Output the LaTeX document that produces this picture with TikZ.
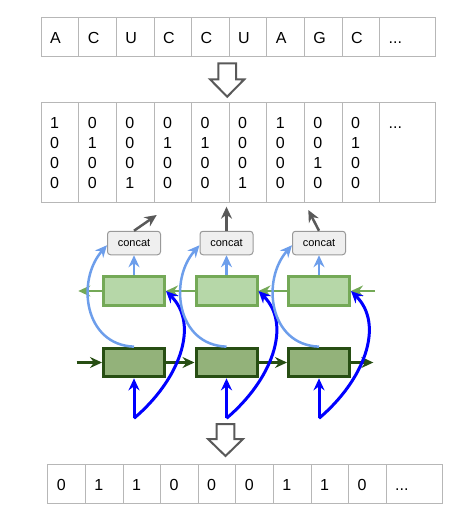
\documentclass[tikz,border=0pt]{standalone}
\usepackage{fontspec}
\setmainfont{Liberation Sans}
\usetikzlibrary{arrows.meta,calc}
\definecolor{gridc}{HTML}{B7B7B7}
\definecolor{dgreen}{HTML}{274E13}
\definecolor{dfill}{HTML}{93B27A}
\definecolor{lgreen}{HTML}{74A957}
\definecolor{lfill}{HTML}{B6D7A8}
\definecolor{lblue}{HTML}{6D9EEB}
\definecolor{bblue}{HTML}{0000FF}
\definecolor{garrow}{HTML}{595959}
\definecolor{cfill}{HTML}{EFEFEF}
\definecolor{cborder}{HTML}{999999}
\newcommand\dstrut{\rule{0pt}{12pt}}
\begin{document}
\begin{tikzpicture}[x=1pt,y=-1pt,
  cell/.style={draw=gridc, line width=1pt, anchor=north west, minimum width=37.6pt,
    minimum height=38.7pt, text width=19.6pt, inner xsep=9pt, inner ysep=0pt,
    align=left, font=\fontsize{16}{20}\selectfont},
  wide/.style={minimum width=56pt, text width=38pt},
  tall/.style={minimum height=100.6pt},
  dbox/.style={draw=dgreen, fill=dfill, line width=3pt, minimum width=61pt, minimum height=28.7pt, inner sep=0pt},
  lbox/.style={draw=lgreen, fill=lfill, line width=3pt, minimum width=61pt, minimum height=28.7pt, inner sep=0pt},
  cbox/.style={draw=cborder, fill=cfill, line width=1pt, rounded corners=3pt, minimum width=53pt,
    minimum height=23.5pt, inner sep=0pt, font=\fontsize{11}{13}\selectfont},
  tipstyle/.style={-{Stealth[length=12pt,width=11pt,inset=4pt]}},
  darr/.style={tipstyle, draw=dgreen, line width=2.5pt},
  larr/.style={tipstyle, draw=lgreen, line width=2.5pt},
  barr/.style={tipstyle, draw=bblue, line width=3pt},
  lbarr/.style={tipstyle, draw=lblue, line width=2.5pt},
  garr/.style={tipstyle, draw=garrow, line width=2.5pt},
  blockarrow/.style={draw=garrow, fill=white, line width=2pt, line join=miter}
]
\useasboundingbox (0,0) rectangle (468,532);

% top table
\foreach \t [count=\i from 0] in {A,C,U,C,C,U,A,G,C}
  \node[cell] (a\i) at ({40.7+37.6*\i},17.3) {\dstrut\t};
\node[cell, wide] (a9) at (379.1,17.3) {\dstrut...};

% one-hot table
\foreach \ua/\ub/\uc/\ud [count=\i from 0] in {1/0/0/0,0/1/0/0,0/0/0/1,0/1/0/0,0/1/0/0,0/0/0/1,1/0/0/0,0/0/1/0,0/1/0/0}
  \node[cell, tall] (b\i) at ({40.7+37.6*\i},101.7) {\dstrut\ua\\\dstrut\ub\\\dstrut\uc\\\dstrut\ud};
\node[cell, wide, tall] (b9) at (379.1,101.7) {\dstrut...\\\dstrut\\\dstrut\\\dstrut};

% bottom table
\foreach \t [count=\i from 0] in {0,1,1,0,0,0,1,1,0}
  \node[cell] (e\i) at ({47.3+37.6*\i},464.3) {\dstrut\t};
\node[cell, wide] (e9) at (385.7,464.3) {\dstrut...};

% block arrows
\draw[blockarrow] (218.3,63.3) -- (236,63.3) -- (236,79.3) -- (244.3,79.3) -- (227.2,96.7)
  -- (210,79.3) -- (218.3,79.3) -- cycle;
\draw[blockarrow] (216.7,424) -- (234.3,424) -- (234.3,439) -- (243,439) -- (225.5,456)
  -- (208,439) -- (216.7,439) -- cycle;

% RNN cells
\foreach \n/\cx in {1/134,2/226.5,3/319} {
  \node[dbox] (d\n) at (\cx,362.5) {};
  \node[lbox] (l\n) at (\cx,291) {};
  \node[cbox] (c\n) at (\cx,243) {concat};
  \coordinate (in\n) at (\cx,418.3);
}
\coordinate (dIn) at (76.7,362.5);
\coordinate (dOut) at (373.3,362.5);
\coordinate (lIn) at (375,291);
\coordinate (lOut) at (78.3,291);
\coordinate (o1) at (156.7,215);
\coordinate (o2) at (226.5,206.7);
\coordinate (o3) at (308.3,210);

% forward chain
\draw[darr] (dIn) -- (d1);
\draw[darr] (d1) -- (d2);
\draw[darr] (d2) -- (d3);
\draw[darr] (d3) -- (dOut);
% backward chain
\draw[larr] (lIn) -- (l3);
\draw[larr] (l3) -- (l2);
\draw[larr] (l2) -- (l1);
\draw[larr] (l1) -- (lOut);

\foreach \n in {1,2,3} {
  \draw[lbarr] (d\n.north) .. controls ($(d\n.north)+(-50,-1.7)$) and ($(c\n.south west)+(-31,25)$)
    .. ($(c\n.south west)+(0,-10)$);
  \draw[lbarr] (l\n) -- (c\n);
  \draw[barr] (in\n) -- (d\n.south);
  \draw[barr] (in\n) .. controls ($(in\n)+(45,-38)$) and ($(l\n.east)+(34,34)$) .. (l\n.east);
  \draw[garr] (c\n.north) -- (o\n);
}
\end{tikzpicture}
\end{document}
